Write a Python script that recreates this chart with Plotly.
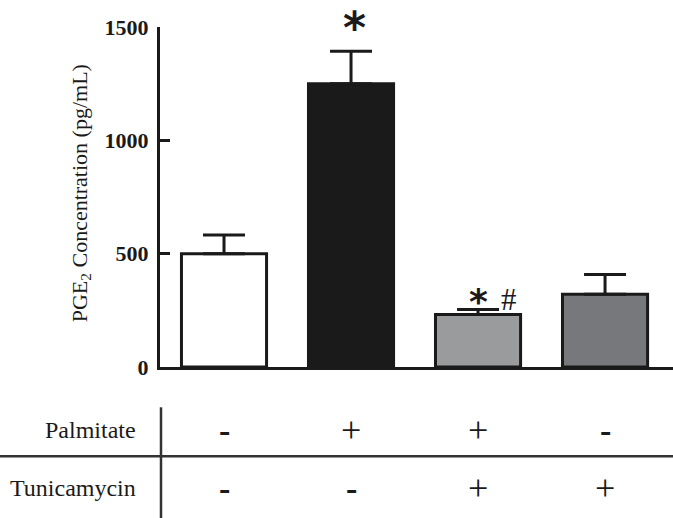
import plotly.graph_objects as go

# ---- data ----
groups = ["Control", "Palmitate", "Palmitate+Tunicamycin", "Tunicamycin"]
pge2_mean = [500, 1250, 232, 321]
pge2_err = [82, 143, 22, 87]
bar_colors = ["#ffffff", "#1a1a1a", "#9a9b9d", "#77787b"]
palmitate = ["-", "+", "+", "-"]
tunicamycin = ["-", "-", "+", "+"]
y_ticks = [0, 500, 1000, 1500]

SERIF = "Liberation Serif"
W, H = 673, 518
L, T, B = 160, 26.7, 151.3
plot_h = H - T - B
plot_w = W - L

def px_to_paper_y(py):
    return (H - B - py) / plot_h

def px_to_paper_x(px):
    return (px - L) / plot_w

xs = list(range(len(groups)))

fig = go.Figure()
fig.add_trace(go.Bar(
    x=xs, y=pge2_mean, width=0.67,
    marker=dict(color=bar_colors, line=dict(color="#1a1a1a", width=3)),
    error_y=dict(type="data", array=pge2_err, arrayminus=[0] * 4, symmetric=False,
                 color="#1a1a1a", thickness=3, width=21),
    showlegend=False,
    hoverinfo="skip",
))

annotations = []
# significance marks
annotations.append(dict(x=1.03, y=px_to_paper_y(27), xref="x", yref="paper", text="*", showarrow=False,
                        font=dict(family="DejaVu Sans", size=44, color="#1a1a1a", weight="bold"),
                        yanchor="middle", xanchor="center"))
annotations.append(dict(x=2.0, y=290, xref="x", yref="y", text="*", showarrow=False,
                        font=dict(family="DejaVu Sans", size=36, color="#1a1a1a", weight="bold"),
                        yanchor="middle", xanchor="center"))
annotations.append(dict(x=2.24, y=298, xref="x", yref="y", text="#", showarrow=False,
                        font=dict(family=SERIF, size=31, color="#1a1a1a"),
                        yanchor="middle", xanchor="center"))

# axis title
annotations.append(dict(x=px_to_paper_x(81), y=px_to_paper_y(193), xref="paper", yref="paper",
                        text="PGE<sub>2</sub> Concentration (pg/mL)", textangle=-90,
                        showarrow=False, font=dict(family=SERIF, size=22, color="#1a1a1a"),
                        xanchor="center", yanchor="middle"))

# table row labels
row_y = [px_to_paper_y(430), px_to_paper_y(488)]
for lab, yy in zip(["Palmitate", "Tunicamycin"], row_y):
    annotations.append(dict(x=px_to_paper_x(138), y=yy, xref="paper", yref="paper", text=lab,
                            showarrow=False, font=dict(family=SERIF, size=24, color="#1a1a1a"),
                            xanchor="right", yanchor="middle"))
for row, yy in zip([palmitate, tunicamycin], row_y):
    for i, s in enumerate(row):
        if s == "-":
            annotations.append(dict(x=i, y=yy, xref="x", yref="paper", text="<b>-</b>",
                                    showarrow=False,
                                    font=dict(family=SERIF, size=34, color="#1a1a1a"),
                                    xanchor="center", yanchor="middle"))
        else:
            annotations.append(dict(x=i, y=yy, xref="x", yref="paper", text="+",
                                    showarrow=False,
                                    font=dict(family=SERIF, size=36, color="#1a1a1a"),
                                    xanchor="center", yanchor="middle"))

shapes = [
    dict(type="line", xref="paper", yref="paper", x0=px_to_paper_x(0), x1=1,
         y0=px_to_paper_y(456), y1=px_to_paper_y(456), line=dict(color="#333333", width=2.5)),
    dict(type="line", xref="paper", yref="paper", x0=px_to_paper_x(161), x1=px_to_paper_x(161),
         y0=px_to_paper_y(407), y1=px_to_paper_y(520), line=dict(color="#333333", width=2.5)),
]

fig.update_layout(
    width=W, height=H,
    margin=dict(l=L, r=0, t=T, b=B, pad=0),
    paper_bgcolor="white", plot_bgcolor="white",
    annotations=annotations, shapes=shapes,
    xaxis=dict(range=[-0.504, 3.535], showticklabels=False, ticks="", showgrid=False,
               zeroline=False, showline=True, linecolor="#1a1a1a", linewidth=3, fixedrange=True),
    yaxis=dict(range=[0, 1500], tickvals=y_ticks, ticktext=[str(v) for v in y_ticks],
               ticks="inside", ticklen=10, tickwidth=3, tickcolor="#1a1a1a",
               showgrid=False, zeroline=False, showline=True, linecolor="#1a1a1a", linewidth=3,
               tickfont=dict(family=SERIF, size=22, color="#1a1a1a", weight="bold"),
               ticklabelstandoff=4, fixedrange=True),
)

fig.write_html("out.html", config={"displayModeBar": False},
               post_script="document.body.style.margin='0';")
